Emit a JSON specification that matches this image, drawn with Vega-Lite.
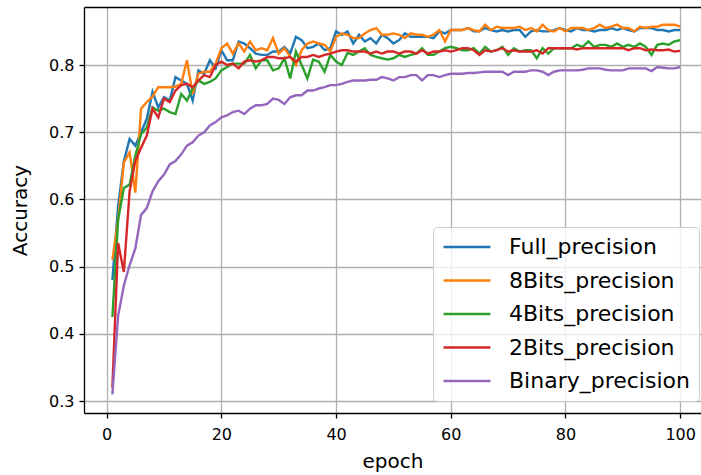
{
  "$schema": "https://vega.github.io/schema/vega-lite/v6.json",
  "width": 617,
  "height": 406,
  "autosize": {"type": "none"},
  "padding": {"left": 84, "top": 7, "right": 0, "bottom": 62},
  "background": "white",
  "config": {
    "view": {"stroke": null},
    "font": "DejaVu Sans",
    "axis": {
      "domainColor": "black",
      "domainWidth": 1.3,
      "tickColor": "black",
      "tickSize": 5,
      "tickWidth": 1.3,
      "labelColor": "black",
      "labelFontSize": 16,
      "labelFont": "DejaVu Sans",
      "titleFont": "DejaVu Sans",
      "titleFontSize": 20,
      "titleFontWeight": "normal",
      "titleColor": "black",
      "gridColor": "#b0b0b0",
      "gridWidth": 1.3,
      "labelPadding": 5
    },
    "legend": {
      "labelFont": "DejaVu Sans",
      "labelFontSize": 22,
      "labelColor": "black",
      "labelLimit": 0
    }
  },
  "data": {
    "values": [
      {"epoch":1,"Full_precision":0.48,"8Bits_precision":0.51,"4Bits_precision":0.425,"2Bits_precision":0.32,"Binary_precision":0.31},
      {"epoch":2,"Full_precision":0.59,"8Bits_precision":0.57,"4Bits_precision":0.57,"2Bits_precision":0.535,"Binary_precision":0.427},
      {"epoch":3,"Full_precision":0.657,"8Bits_precision":0.655,"4Bits_precision":0.617,"2Bits_precision":0.492,"Binary_precision":0.472},
      {"epoch":4,"Full_precision":0.69,"8Bits_precision":0.67,"4Bits_precision":0.622,"2Bits_precision":0.612,"Binary_precision":0.502},
      {"epoch":5,"Full_precision":0.68,"8Bits_precision":0.61,"4Bits_precision":0.665,"2Bits_precision":0.657,"Binary_precision":0.527},
      {"epoch":6,"Full_precision":0.70,"8Bits_precision":0.735,"4Bits_precision":0.697,"2Bits_precision":0.677,"Binary_precision":0.577},
      {"epoch":7,"Full_precision":0.72,"8Bits_precision":0.745,"4Bits_precision":0.707,"2Bits_precision":0.695,"Binary_precision":0.587},
      {"epoch":8,"Full_precision":0.76,"8Bits_precision":0.753,"4Bits_precision":0.737,"2Bits_precision":0.735,"Binary_precision":0.612},
      {"epoch":9,"Full_precision":0.737,"8Bits_precision":0.767,"4Bits_precision":0.732,"2Bits_precision":0.722,"Binary_precision":0.627},
      {"epoch":10,"Full_precision":0.752,"8Bits_precision":0.767,"4Bits_precision":0.735,"2Bits_precision":0.75,"Binary_precision":0.637},
      {"epoch":11,"Full_precision":0.747,"8Bits_precision":0.767,"4Bits_precision":0.73,"2Bits_precision":0.745,"Binary_precision":0.652},
      {"epoch":12,"Full_precision":0.782,"8Bits_precision":0.768,"4Bits_precision":0.727,"2Bits_precision":0.762,"Binary_precision":0.657},
      {"epoch":13,"Full_precision":0.777,"8Bits_precision":0.772,"4Bits_precision":0.757,"2Bits_precision":0.77,"Binary_precision":0.667},
      {"epoch":14,"Full_precision":0.772,"8Bits_precision":0.807,"4Bits_precision":0.747,"2Bits_precision":0.772,"Binary_precision":0.68},
      {"epoch":15,"Full_precision":0.747,"8Bits_precision":0.757,"4Bits_precision":0.765,"2Bits_precision":0.767,"Binary_precision":0.685},
      {"epoch":16,"Full_precision":0.792,"8Bits_precision":0.787,"4Bits_precision":0.777,"2Bits_precision":0.777,"Binary_precision":0.695},
      {"epoch":17,"Full_precision":0.787,"8Bits_precision":0.79,"4Bits_precision":0.772,"2Bits_precision":0.785,"Binary_precision":0.7},
      {"epoch":18,"Full_precision":0.807,"8Bits_precision":0.79,"4Bits_precision":0.775,"2Bits_precision":0.782,"Binary_precision":0.71},
      {"epoch":19,"Full_precision":0.795,"8Bits_precision":0.802,"4Bits_precision":0.78,"2Bits_precision":0.8,"Binary_precision":0.715},
      {"epoch":20,"Full_precision":0.822,"8Bits_precision":0.825,"4Bits_precision":0.792,"2Bits_precision":0.805,"Binary_precision":0.722},
      {"epoch":21,"Full_precision":0.807,"8Bits_precision":0.832,"4Bits_precision":0.797,"2Bits_precision":0.8,"Binary_precision":0.725},
      {"epoch":22,"Full_precision":0.807,"8Bits_precision":0.817,"4Bits_precision":0.802,"2Bits_precision":0.802,"Binary_precision":0.73},
      {"epoch":23,"Full_precision":0.835,"8Bits_precision":0.832,"4Bits_precision":0.802,"2Bits_precision":0.795,"Binary_precision":0.732},
      {"epoch":24,"Full_precision":0.832,"8Bits_precision":0.82,"4Bits_precision":0.802,"2Bits_precision":0.805,"Binary_precision":0.727},
      {"epoch":25,"Full_precision":0.825,"8Bits_precision":0.835,"4Bits_precision":0.815,"2Bits_precision":0.807,"Binary_precision":0.735},
      {"epoch":26,"Full_precision":0.817,"8Bits_precision":0.822,"4Bits_precision":0.795,"2Bits_precision":0.805,"Binary_precision":0.74},
      {"epoch":27,"Full_precision":0.815,"8Bits_precision":0.825,"4Bits_precision":0.807,"2Bits_precision":0.807,"Binary_precision":0.74},
      {"epoch":28,"Full_precision":0.815,"8Bits_precision":0.822,"4Bits_precision":0.807,"2Bits_precision":0.812,"Binary_precision":0.742},
      {"epoch":29,"Full_precision":0.82,"8Bits_precision":0.84,"4Bits_precision":0.792,"2Bits_precision":0.812,"Binary_precision":0.75},
      {"epoch":30,"Full_precision":0.82,"8Bits_precision":0.817,"4Bits_precision":0.795,"2Bits_precision":0.81,"Binary_precision":0.748},
      {"epoch":31,"Full_precision":0.827,"8Bits_precision":0.825,"4Bits_precision":0.81,"2Bits_precision":0.81,"Binary_precision":0.742},
      {"epoch":32,"Full_precision":0.817,"8Bits_precision":0.812,"4Bits_precision":0.78,"2Bits_precision":0.812,"Binary_precision":0.752},
      {"epoch":33,"Full_precision":0.842,"8Bits_precision":0.8,"4Bits_precision":0.82,"2Bits_precision":0.805,"Binary_precision":0.755},
      {"epoch":34,"Full_precision":0.837,"8Bits_precision":0.822,"4Bits_precision":0.8,"2Bits_precision":0.812,"Binary_precision":0.755},
      {"epoch":35,"Full_precision":0.825,"8Bits_precision":0.832,"4Bits_precision":0.78,"2Bits_precision":0.812,"Binary_precision":0.762},
      {"epoch":36,"Full_precision":0.827,"8Bits_precision":0.835,"4Bits_precision":0.808,"2Bits_precision":0.815,"Binary_precision":0.762},
      {"epoch":37,"Full_precision":0.832,"8Bits_precision":0.832,"4Bits_precision":0.805,"2Bits_precision":0.812,"Binary_precision":0.765},
      {"epoch":38,"Full_precision":0.822,"8Bits_precision":0.83,"4Bits_precision":0.79,"2Bits_precision":0.815,"Binary_precision":0.767},
      {"epoch":39,"Full_precision":0.825,"8Bits_precision":0.82,"4Bits_precision":0.815,"2Bits_precision":0.817,"Binary_precision":0.77},
      {"epoch":40,"Full_precision":0.85,"8Bits_precision":0.842,"4Bits_precision":0.805,"2Bits_precision":0.82,"Binary_precision":0.77},
      {"epoch":41,"Full_precision":0.845,"8Bits_precision":0.847,"4Bits_precision":0.8,"2Bits_precision":0.822,"Binary_precision":0.772},
      {"epoch":42,"Full_precision":0.85,"8Bits_precision":0.845,"4Bits_precision":0.818,"2Bits_precision":0.822,"Binary_precision":0.775},
      {"epoch":43,"Full_precision":0.832,"8Bits_precision":0.84,"4Bits_precision":0.815,"2Bits_precision":0.82,"Binary_precision":0.777},
      {"epoch":44,"Full_precision":0.845,"8Bits_precision":0.84,"4Bits_precision":0.82,"2Bits_precision":0.82,"Binary_precision":0.777},
      {"epoch":45,"Full_precision":0.835,"8Bits_precision":0.847,"4Bits_precision":0.825,"2Bits_precision":0.82,"Binary_precision":0.777},
      {"epoch":46,"Full_precision":0.84,"8Bits_precision":0.852,"4Bits_precision":0.815,"2Bits_precision":0.817,"Binary_precision":0.778},
      {"epoch":47,"Full_precision":0.832,"8Bits_precision":0.855,"4Bits_precision":0.812,"2Bits_precision":0.82,"Binary_precision":0.778},
      {"epoch":48,"Full_precision":0.845,"8Bits_precision":0.845,"4Bits_precision":0.81,"2Bits_precision":0.817,"Binary_precision":0.782},
      {"epoch":49,"Full_precision":0.84,"8Bits_precision":0.845,"4Bits_precision":0.808,"2Bits_precision":0.82,"Binary_precision":0.78},
      {"epoch":50,"Full_precision":0.832,"8Bits_precision":0.847,"4Bits_precision":0.81,"2Bits_precision":0.82,"Binary_precision":0.777},
      {"epoch":51,"Full_precision":0.837,"8Bits_precision":0.845,"4Bits_precision":0.815,"2Bits_precision":0.817,"Binary_precision":0.782},
      {"epoch":52,"Full_precision":0.847,"8Bits_precision":0.84,"4Bits_precision":0.812,"2Bits_precision":0.82,"Binary_precision":0.782},
      {"epoch":53,"Full_precision":0.842,"8Bits_precision":0.847,"4Bits_precision":0.815,"2Bits_precision":0.82,"Binary_precision":0.785},
      {"epoch":54,"Full_precision":0.842,"8Bits_precision":0.845,"4Bits_precision":0.817,"2Bits_precision":0.817,"Binary_precision":0.785},
      {"epoch":55,"Full_precision":0.842,"8Bits_precision":0.845,"4Bits_precision":0.825,"2Bits_precision":0.822,"Binary_precision":0.777},
      {"epoch":56,"Full_precision":0.842,"8Bits_precision":0.842,"4Bits_precision":0.815,"2Bits_precision":0.817,"Binary_precision":0.785},
      {"epoch":57,"Full_precision":0.84,"8Bits_precision":0.845,"4Bits_precision":0.815,"2Bits_precision":0.82,"Binary_precision":0.785},
      {"epoch":58,"Full_precision":0.85,"8Bits_precision":0.852,"4Bits_precision":0.82,"2Bits_precision":0.82,"Binary_precision":0.782},
      {"epoch":59,"Full_precision":0.847,"8Bits_precision":0.835,"4Bits_precision":0.825,"2Bits_precision":0.822,"Binary_precision":0.785},
      {"epoch":60,"Full_precision":0.852,"8Bits_precision":0.852,"4Bits_precision":0.827,"2Bits_precision":0.82,"Binary_precision":0.787},
      {"epoch":61,"Full_precision":0.852,"8Bits_precision":0.852,"4Bits_precision":0.825,"2Bits_precision":0.822,"Binary_precision":0.787},
      {"epoch":62,"Full_precision":0.852,"8Bits_precision":0.852,"4Bits_precision":0.822,"2Bits_precision":0.825,"Binary_precision":0.787},
      {"epoch":63,"Full_precision":0.855,"8Bits_precision":0.855,"4Bits_precision":0.822,"2Bits_precision":0.825,"Binary_precision":0.788},
      {"epoch":64,"Full_precision":0.85,"8Bits_precision":0.852,"4Bits_precision":0.825,"2Bits_precision":0.822,"Binary_precision":0.788},
      {"epoch":65,"Full_precision":0.85,"8Bits_precision":0.85,"4Bits_precision":0.817,"2Bits_precision":0.815,"Binary_precision":0.789},
      {"epoch":66,"Full_precision":0.855,"8Bits_precision":0.86,"4Bits_precision":0.827,"2Bits_precision":0.822,"Binary_precision":0.79},
      {"epoch":67,"Full_precision":0.852,"8Bits_precision":0.852,"4Bits_precision":0.82,"2Bits_precision":0.82,"Binary_precision":0.79},
      {"epoch":68,"Full_precision":0.85,"8Bits_precision":0.857,"4Bits_precision":0.822,"2Bits_precision":0.822,"Binary_precision":0.79},
      {"epoch":69,"Full_precision":0.852,"8Bits_precision":0.855,"4Bits_precision":0.827,"2Bits_precision":0.825,"Binary_precision":0.79},
      {"epoch":70,"Full_precision":0.85,"8Bits_precision":0.855,"4Bits_precision":0.815,"2Bits_precision":0.82,"Binary_precision":0.785},
      {"epoch":71,"Full_precision":0.852,"8Bits_precision":0.855,"4Bits_precision":0.825,"2Bits_precision":0.822,"Binary_precision":0.79},
      {"epoch":72,"Full_precision":0.852,"8Bits_precision":0.857,"4Bits_precision":0.82,"2Bits_precision":0.82,"Binary_precision":0.79},
      {"epoch":73,"Full_precision":0.842,"8Bits_precision":0.852,"4Bits_precision":0.822,"2Bits_precision":0.82,"Binary_precision":0.79},
      {"epoch":74,"Full_precision":0.85,"8Bits_precision":0.855,"4Bits_precision":0.822,"2Bits_precision":0.82,"Binary_precision":0.792},
      {"epoch":75,"Full_precision":0.852,"8Bits_precision":0.85,"4Bits_precision":0.81,"2Bits_precision":0.822,"Binary_precision":0.792},
      {"epoch":76,"Full_precision":0.85,"8Bits_precision":0.86,"4Bits_precision":0.825,"2Bits_precision":0.817,"Binary_precision":0.79},
      {"epoch":77,"Full_precision":0.85,"8Bits_precision":0.852,"4Bits_precision":0.817,"2Bits_precision":0.825,"Binary_precision":0.785},
      {"epoch":78,"Full_precision":0.852,"8Bits_precision":0.85,"4Bits_precision":0.825,"2Bits_precision":0.825,"Binary_precision":0.79},
      {"epoch":79,"Full_precision":0.855,"8Bits_precision":0.855,"4Bits_precision":0.825,"2Bits_precision":0.825,"Binary_precision":0.792},
      {"epoch":80,"Full_precision":0.852,"8Bits_precision":0.85,"4Bits_precision":0.825,"2Bits_precision":0.825,"Binary_precision":0.792},
      {"epoch":81,"Full_precision":0.85,"8Bits_precision":0.855,"4Bits_precision":0.825,"2Bits_precision":0.825,"Binary_precision":0.792},
      {"epoch":82,"Full_precision":0.855,"8Bits_precision":0.855,"4Bits_precision":0.83,"2Bits_precision":0.823,"Binary_precision":0.792},
      {"epoch":83,"Full_precision":0.852,"8Bits_precision":0.855,"4Bits_precision":0.827,"2Bits_precision":0.825,"Binary_precision":0.793},
      {"epoch":84,"Full_precision":0.852,"8Bits_precision":0.852,"4Bits_precision":0.835,"2Bits_precision":0.825,"Binary_precision":0.795},
      {"epoch":85,"Full_precision":0.85,"8Bits_precision":0.855,"4Bits_precision":0.827,"2Bits_precision":0.825,"Binary_precision":0.795},
      {"epoch":86,"Full_precision":0.852,"8Bits_precision":0.86,"4Bits_precision":0.83,"2Bits_precision":0.825,"Binary_precision":0.795},
      {"epoch":87,"Full_precision":0.852,"8Bits_precision":0.855,"4Bits_precision":0.83,"2Bits_precision":0.825,"Binary_precision":0.793},
      {"epoch":88,"Full_precision":0.855,"8Bits_precision":0.857,"4Bits_precision":0.827,"2Bits_precision":0.825,"Binary_precision":0.792},
      {"epoch":89,"Full_precision":0.852,"8Bits_precision":0.86,"4Bits_precision":0.832,"2Bits_precision":0.825,"Binary_precision":0.792},
      {"epoch":90,"Full_precision":0.855,"8Bits_precision":0.855,"4Bits_precision":0.827,"2Bits_precision":0.825,"Binary_precision":0.792},
      {"epoch":91,"Full_precision":0.852,"8Bits_precision":0.855,"4Bits_precision":0.83,"2Bits_precision":0.822,"Binary_precision":0.795},
      {"epoch":92,"Full_precision":0.85,"8Bits_precision":0.85,"4Bits_precision":0.827,"2Bits_precision":0.825,"Binary_precision":0.795},
      {"epoch":93,"Full_precision":0.855,"8Bits_precision":0.857,"4Bits_precision":0.832,"2Bits_precision":0.825,"Binary_precision":0.795},
      {"epoch":94,"Full_precision":0.855,"8Bits_precision":0.855,"4Bits_precision":0.827,"2Bits_precision":0.822,"Binary_precision":0.795},
      {"epoch":95,"Full_precision":0.855,"8Bits_precision":0.857,"4Bits_precision":0.815,"2Bits_precision":0.823,"Binary_precision":0.791},
      {"epoch":96,"Full_precision":0.852,"8Bits_precision":0.857,"4Bits_precision":0.83,"2Bits_precision":0.822,"Binary_precision":0.797},
      {"epoch":97,"Full_precision":0.852,"8Bits_precision":0.86,"4Bits_precision":0.832,"2Bits_precision":0.822,"Binary_precision":0.796},
      {"epoch":98,"Full_precision":0.85,"8Bits_precision":0.86,"4Bits_precision":0.83,"2Bits_precision":0.823,"Binary_precision":0.795},
      {"epoch":99,"Full_precision":0.852,"8Bits_precision":0.86,"4Bits_precision":0.835,"2Bits_precision":0.82,"Binary_precision":0.795},
      {"epoch":100,"Full_precision":0.852,"8Bits_precision":0.857,"4Bits_precision":0.837,"2Bits_precision":0.821,"Binary_precision":0.797}
    ]
  },
  "transform": [
    {"fold": ["Full_precision", "8Bits_precision", "4Bits_precision", "2Bits_precision", "Binary_precision"], "as": ["series", "accuracy"]}
  ],
  "layer": [
    {
      "mark": {"type": "line", "strokeWidth": 2.4, "clip": true},
      "encoding": {
        "x": {
          "field": "epoch", "type": "quantitative",
          "scale": {"domain": [-3.95, 103.63], "nice": false, "zero": false},
          "axis": {"values": [0, 20, 40, 60, 80, 100], "title": "epoch", "titlePadding": 9, "labelPadding": 8, "orient": "bottom"}
        },
        "y": {
          "field": "accuracy", "type": "quantitative",
          "scale": {"domain": [0.2822, 0.8863], "nice": false, "zero": false},
          "axis": {"values": [0.3, 0.4, 0.5, 0.6, 0.7, 0.8], "format": ".1f", "title": "Accuracy", "titlePadding": 18}
        },
        "color": {
          "field": "series", "type": "nominal",
          "scale": {
            "domain": ["Full_precision", "8Bits_precision", "4Bits_precision", "2Bits_precision", "Binary_precision"],
            "range": ["#1f77b4", "#ff7f0e", "#2ca02c", "#d62728", "#9467bd"]
          },
          "legend": {
            "title": null,
            "orient": "none",
            "legendX": 349,
            "legendY": 220,
            "symbolType": "stroke",
            "symbolSize": 2200,
            "symbolStrokeWidth": 2.6,
            "clipHeight": 22,
            "rowPadding": 11.5,
            "labelOffset": 17,
            "labelLimit": 0,
            "padding": 9,
            "fillColor": "rgba(255,255,255,0.8)",
            "strokeColor": "#cccccc",
            "cornerRadius": 4
          }
        }
      }
    },
    {
      "mark": {"type": "rule", "opacity": 0},
      "encoding": {
        "x": {
          "field": "epoch", "type": "quantitative",
          "scale": {"domain": [-3.95, 103.63], "nice": false, "zero": false},
          "axis": {"orient": "top", "ticks": false, "labels": false, "grid": false, "title": null, "domain": true}
        }
      }
    }
  ],
  "resolve": {"axis": {"x": "independent"}}
}
